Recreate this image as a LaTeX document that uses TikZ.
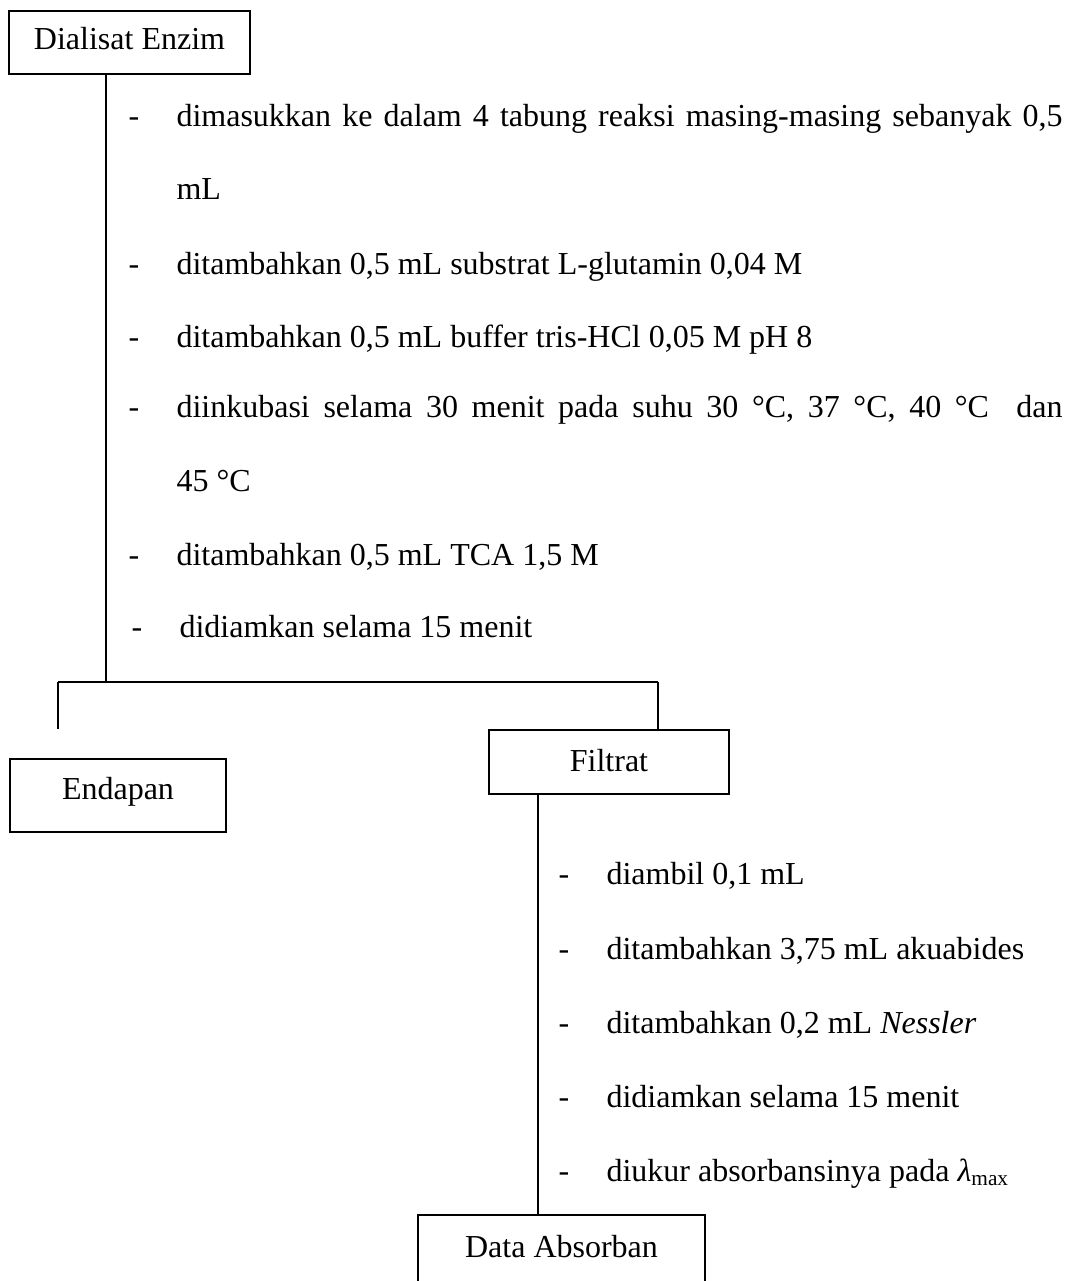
\documentclass[tikz,border=0pt]{standalone}
\usepackage{fontspec}
\setmainfont{Liberation Serif}
\newcommand{\dashitem}[1]{\makebox[18pt][l]{-}#1}
\begin{document}
\begin{tikzpicture}[x=0.375pt, y=-0.375pt,
  every node/.style={font=\fontsize{12pt}{14pt}\selectfont},
  stepbox/.style={draw, line width=0.75pt, inner sep=0pt, anchor=north, align=center},
  line/.style={line width=0.6pt},
  txt/.style={anchor=base west, inner sep=0pt}]
  \useasboundingbox (0,0) rectangle (1076,1281);
  \fill[white] (0,0) rectangle (1076,1281);
  \clip (0,0) rectangle (1076,1281);

  % boxes
  \node[stepbox, minimum width=90.4pt, text height=14.25pt, text depth=9.375pt]
    (dialisat) at (129.5,10) {Dialisat Enzim};
  \node[stepbox, minimum width=81pt, text height=15pt, text depth=12.375pt]
    (endapan) at (118,758) {Endapan};
  \node[stepbox, minimum width=90pt, text height=15.375pt, text depth=8.625pt]
    (filtrat) at (609,729) {Filtrat};
  \node[stepbox, minimum width=107.6pt, text height=15.75pt, text depth=22.5pt]
    (data) at (561.5,1214) {Data Absorban};

  % junction points
  \coordinate (j1) at (106,682);
  \coordinate (jl) at (58,682);
  \coordinate (jr) at (658,682);
  \coordinate (jlend) at (58,729);
  \coordinate (j2) at (538,793);

  % connectors
  \draw[line] (dialisat.south -| j1) -- (j1);
  \draw[line] (jl) -- (jr);
  \draw[line] (jl) -- (jlend);
  \draw[line] (jr) -- (filtrat.north -| jr);
  \draw[line] (filtrat.south -| j2) -- (data.north -| j2);

  % first group of steps
  \node[txt] (s1) at (128,126) {\dashitem{\makebox[332.25pt][s]{dimasukkan ke dalam 4 tabung reaksi masing-masing sebanyak 0,5}}};
  \node[txt] (s1b) at (176,199) {mL};
  \node[txt] (s2) at (128,274) {\dashitem{ditambahkan 0,5 mL substrat L-glutamin 0,04 M}};
  \node[txt] (s3) at (128,347) {\dashitem{ditambahkan 0,5 mL buffer tris-HCl 0,05 M pH 8}};
  \node[txt] (s4) at (128,417) {\dashitem{\makebox[332.25pt][s]{diinkubasi selama 30 menit pada suhu 30 °C, 37 °C, 40 °C \ dan}}};
  \node[txt] (s4b) at (176,491) {45 °C};
  \node[txt] (s5) at (128,565) {\dashitem{ditambahkan 0,5 mL TCA 1,5 M}};
  \node[txt] (s6) at (131,637) {\dashitem{didiamkan selama 15 menit}};

  % second group of steps
  \node[txt] (t1) at (558,884) {\dashitem{diambil 0,1 mL}};
  \node[txt] (t2) at (558,959) {\dashitem{ditambahkan 3,75 mL akuabides}};
  \node[txt] (t3) at (558,1033) {\dashitem{ditambahkan 0,2 mL \textit{Nessler}}};
  \node[txt] (t4) at (558,1107) {\dashitem{didiamkan selama 15 menit}};
  \node[txt] (t5) at (558,1181) {\dashitem{diukur absorbansinya pada \textit{λ}\textsubscript{max}}};
\end{tikzpicture}
\end{document}
